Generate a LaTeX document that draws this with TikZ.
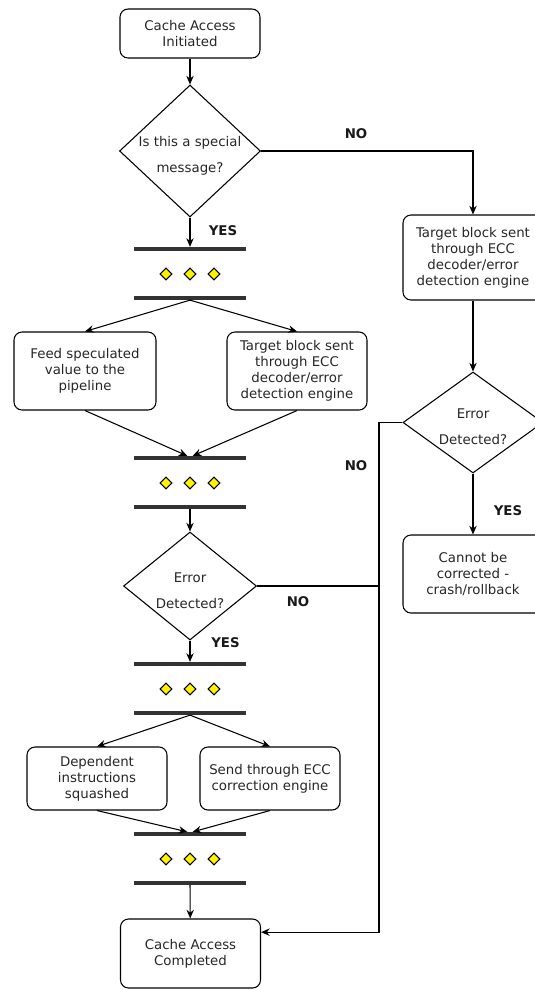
\documentclass[tikz,border=0pt]{standalone}
\usepackage{fontspec}
\setmainfont{DejaVu Sans}
\usetikzlibrary{positioning,arrows.meta,shapes.geometric}

\begin{document}
\begin{tikzpicture}[
  x=0.75pt, y=-0.75pt,
  font=\fontsize{10}{12}\selectfont,
  >={Stealth[length=6.5pt,width=5.5pt]},
  line width=0.8pt,
  blk/.style={draw, rounded corners=6pt, align=center, inner sep=2pt,
              minimum width=105pt, text=black!85},
  decision/.style={draw, diamond, inner sep=0pt, text=black!85},
  syncbar/.style={fill=black!80, minimum width=84pt, minimum height=2.4pt,
                  inner sep=0pt},
  ydot/.style={draw, diamond, fill=yellow, inner sep=0pt, minimum size=9pt,
               line width=0.8pt},
  lbl/.style={font=\fontsize{10}{12}\selectfont\bfseries, text=black!90},
  ar/.style={->},
]
  \useasboundingbox (0,0) rectangle (535,990);

  % start and first question
  \node[blk, minimum height=36.75pt] (start) at (190,33.5) {Cache Access\\Initiated};
  \node[decision, minimum width=105.75pt, minimum height=99pt] (q1) at (190,151)
        {\makebox[0pt]{\raisebox{-6.5pt}[0pt][0pt]{\begin{tabular}{@{}c@{}}Is this a special\\[7.5pt]message?\end{tabular}}}};

  % sync bars
  \node[syncbar] (b1) at (190,249) {};
  \node[syncbar] (b2) at (190,298) {};
  \node[syncbar] (b3) at (190,458) {};
  \node[syncbar] (b4) at (190,507) {};
  \node[syncbar] (b5) at (190,664) {};
  \node[syncbar] (b6) at (190,713) {};
  \node[syncbar] (b7) at (190,834) {};
  \node[syncbar] (b8) at (190,883) {};
  \foreach \y [count=\k] in {274,483,689,859}
    \foreach \x [count=\j] in {166,190,214}
      \node[ydot] (p\k-\j) at (\x,\y) {};

  % speculative branch
  \node[blk, minimum width=106.5pt, minimum height=58.5pt] (feed) at (85,371)
        {Feed speculated\\value to the\\pipeline};
  \node[blk, minimum height=58.5pt] (eccl) at (297,371)
        {Target block sent\\through ECC\\decoder/error\\detection engine};
  \node[decision, minimum width=99.75pt, minimum height=81pt] (q2) at (190,586)
        {\makebox[0pt]{\raisebox{-7pt}[0pt][0pt]{\begin{tabular}{@{}c@{}}Error\\[7.5pt]Detected?\end{tabular}}}};
  \node[blk, minimum height=47.25pt] (squash) at (97,778.5)
        {Dependent\\instructions\\squashed};
  \node[blk, minimum height=47.25pt] (corr) at (270,778.5)
        {Send through ECC\\correction engine};
  \node[blk, minimum height=51.75pt] (done) at (190.5,953.5)
        {Cache Access\\Completed};

  % normal branch
  \node[blk, minimum height=63.75pt] (eccr) at (473,257.5)
        {Target block sent\\through ECC\\decoder/error\\detection engine};
  \node[decision, minimum width=105pt, minimum height=75.75pt] (q3) at (473,422.5)
        {\makebox[0pt]{\raisebox{-7pt}[0pt][0pt]{\begin{tabular}{@{}c@{}}Error\\[7.5pt]Detected?\end{tabular}}}};
  \node[blk, minimum height=58.5pt] (crash) at (473,574)
        {Cannot be\\corrected -\\crash/rollback};
  \coordinate (mrg) at (379,586);

  % answers
  \node[lbl] (yes1) at (223,231) {YES};
  \node[lbl] (no1) at (356,134) {NO};
  \node[lbl] (no2) at (356,466) {NO};
  \node[lbl] (no3) at (298,602) {NO};
  \node[lbl] (yes2) at (225.5,643) {YES};
  \node[lbl] (yes3) at (508,511) {YES};

  \draw[ar] (start) -- (q1);
  \draw[ar] (q1) -- (b1);
  \draw[ar] (b2.south) -- (feed.north);
  \draw[ar] (b2.south) -- (eccl.north);
  \draw[ar] (feed.south) -- ([xshift=-2pt]b3.north);
  \draw[ar] (eccl.south) -- ([xshift=2pt]b3.north);
  \draw[ar] (b4) -- (q2);
  \draw[ar] (q2) -- (b5);
  \draw[ar] (b6.south) -- (squash.north);
  \draw[ar] (b6.south) -- (corr.north);
  \draw[ar] (squash.south) -- ([xshift=-2pt]b7.north);
  \draw[ar] (corr.south) -- ([xshift=2pt]b7.north);
  \draw[ar] (b8) -- (done);

  \draw[ar] (q1.east) -| (eccr.north);
  \draw[ar] (eccr) -- (q3);
  \draw[ar] (q3) -- (crash);
  \draw (q2.east) -- (mrg);
  \draw[ar] (q3.west) -| (mrg) |- ([yshift=16pt]done.east);
\end{tikzpicture}
\end{document}
